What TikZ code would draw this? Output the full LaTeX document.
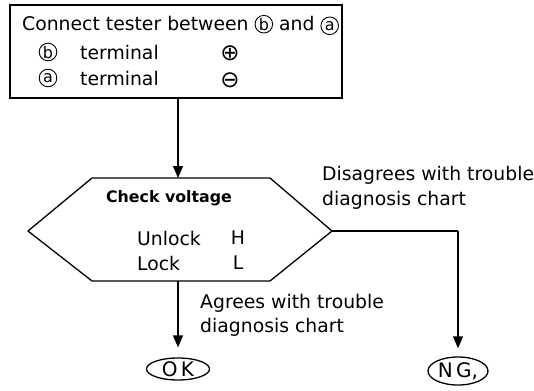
\documentclass[tikz,border=0pt]{standalone}
\usepackage{fontspec}
\setmainfont{DejaVu Sans}
\newfontfamily\symf{DejaVu Sans}
\usetikzlibrary{arrows.meta,shapes.geometric}
\tikzset{
  lbl/.style={font=\fontsize{18.8}{20}\selectfont, inner sep=0pt},
  sym/.style={font=\symf\fontsize{23}{24}\selectfont, inner sep=0pt},
  conn/.style={line width=1.3pt, -{Triangle[width=10pt,length=12pt]}},
  plain/.style={line width=1.3pt},
  term/.style={draw, line width=1.3pt, ellipse, minimum width=63pt, minimum height=22pt, inner sep=0pt}
}
\newcommand{\circl}[1]{\tikz[baseline=(cc.base)]{\node[inner sep=0pt, font=\fontsize{16}{16}\selectfont] (cc) {#1};\draw[line width=0.9pt] ([yshift=0.3pt]cc.center) circle[radius=8.8pt];}}
\begin{document}
\begin{tikzpicture}[x=1pt,y=-1pt]
\useasboundingbox (0,0) rectangle (534,390);
% top box
\node[draw, line width=1.3pt, minimum width=332pt, minimum height=93pt, inner sep=0pt] (box) at (176,51.5) {};
\node[lbl, anchor=west] (t1) at (22,25) {Connect tester between\hspace{6pt}\circl{b}\hspace{6pt}and\hspace{6pt}\circl{a}};
\node[lbl] (t2a) at (48,52) {\circl{b}};
\node[lbl, anchor=west] (t2b) at (80,52) {terminal};
\node[sym] (t2c) at (230,53) {⊕};
\node[lbl] (t3a) at (48,78) {\circl{a}};
\node[lbl, anchor=west] (t3b) at (80,78) {terminal};
\node[sym] (t3c) at (230,80) {⊖};
% hexagon
\coordinate (hL) at (28,231);
\coordinate (hTL) at (92,178);
\coordinate (hTR) at (270,178);
\coordinate (hR) at (332,231);
\coordinate (hBR) at (270,281);
\coordinate (hBL) at (92,281);
\draw[plain, line join=miter] (hL) -- (hTL) -- (hTR) -- (hR) -- (hBR) -- (hBL) -- cycle;
\coordinate (hTop) at (178,178);
\coordinate (hBot) at (178,281);
\node[lbl, font=\fontsize{15.8}{18}\selectfont\bfseries] (cv) at (169,198) {Check voltage};
\node[lbl, anchor=west] (ul) at (137,238) {Unlock};
\node[lbl] (uh) at (238,238) {H};
\node[lbl, anchor=west] (lk) at (137,263) {Lock};
\node[lbl] (ll) at (238,263) {L};
% terminals
\node[term, font=\fontsize{20}{20}\selectfont] (ok) at (178,369) {O\,K};
\node[term, font=\fontsize{20}{20}\selectfont, minimum width=60pt, minimum height=28pt] (ng) at (458,371) {N\,G,};
\coordinate (corner) at (458,231);
% connectors
\draw[conn] (box.south -| hTop) -- (hTop);
\draw[conn] (hBot) -- ([yshift=10pt]ok.north);
\draw[plain] (hR) -- (corner);
\draw[conn] (corner) -- ([yshift=8pt]ng.north);
% labels
\node[lbl, anchor=west] (d1) at (322,175) {Disagrees with trouble};
\node[lbl, anchor=west] (d2) at (322,200) {diagnosis chart};
\node[lbl, anchor=west] (a1) at (200,303) {Agrees with trouble};
\node[lbl, anchor=west] (a2) at (200,327) {diagnosis chart};
\end{tikzpicture}
\end{document}
